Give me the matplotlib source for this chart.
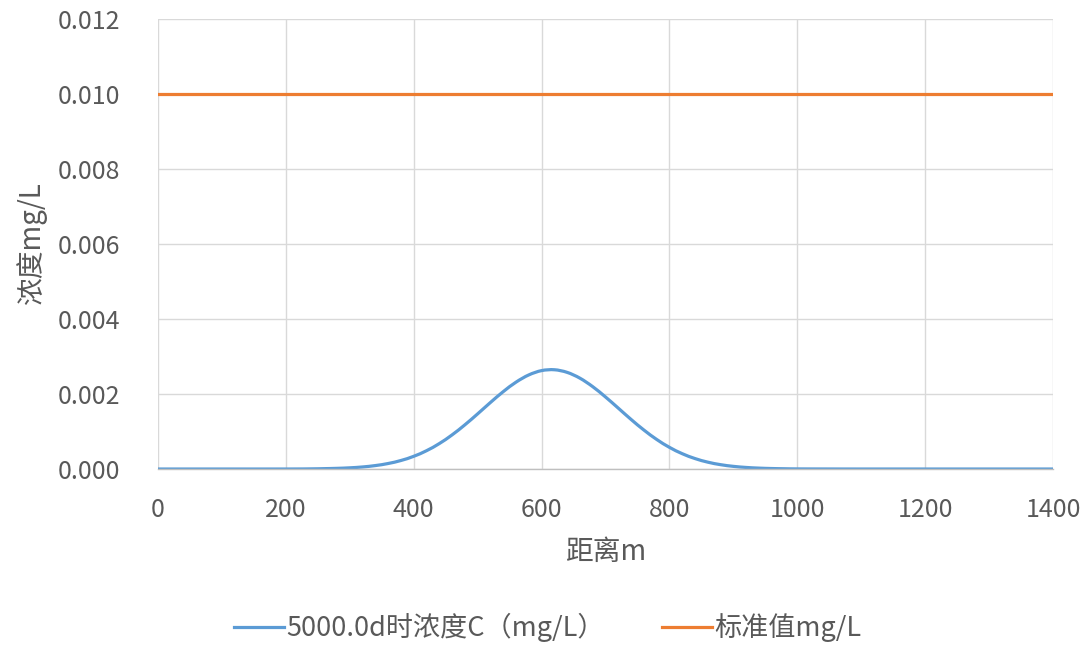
import matplotlib
matplotlib.use("Agg")
import matplotlib.pyplot as plt
import numpy as np
from matplotlib.path import Path
from matplotlib.patches import PathPatch
from matplotlib.lines import Line2D
from matplotlib.ticker import FormatStrFormatter

plt.rcParams['font.family'] = ['Noto Sans CJK SC', 'DejaVu Sans']

# distance (m) and concentration at t = 5000 d (mg/L)
distance = [0, 100, 200, 240, 260, 280, 300, 320, 340, 360, 380, 400, 420, 440, 460,
            480, 500, 520, 540, 560, 580, 600, 620, 640, 660, 680, 700, 720,
            740, 760, 780, 800, 820, 840, 860, 880, 900, 920, 940, 960, 980,
            1000, 1050, 1100, 1200, 1300, 1400]
concentration = [0.0, 0.0, 0.0, 0.000004, 0.00001, 0.000018, 0.000032, 0.000055,
                 0.000092, 0.000147, 0.000227, 0.000339, 0.000488, 0.000678,
                 0.00091, 0.001178, 0.001471, 0.001774, 0.002063, 0.002316,
                 0.002509, 0.002624, 0.002647, 0.002577, 0.002422, 0.002196,
                 0.001921, 0.001623, 0.001322, 0.00104, 0.000789, 0.000578,
                 0.000409, 0.000279, 0.000183, 0.000116, 0.000071, 0.000042,
                 0.000024, 0.000013, 0.000007, 0.000003, 0.000001, 0.0, 0.0,
                 0.0, 0.0]
standard_x = [0, 1400]
standard_value = [0.010, 0.010]

series_labels = ['5000.0d时浓度C（mg/L）', '标准值mg/L']
x_label = '距离m'
y_label = '浓度mg/L'

text_color = '#595959'
grid_color = '#d9d9d9'
blue = '#5B9BD5'
orange = '#ED7D31'


def smooth_path(xs, ys):
    """Catmull-Rom style Bezier path through the data points (smoothed line)."""
    p = np.column_stack([xs, ys]).astype(float)
    verts = [p[0]]
    codes = [Path.MOVETO]
    n = len(p)
    for i in range(n - 1):
        p0 = p[i - 1] if i > 0 else p[i]
        p1, p2 = p[i], p[i + 1]
        p3 = p[i + 2] if i + 2 < n else p[i + 1]
        c1 = p1 + (p2 - p0) / 6.0
        c2 = p2 - (p3 - p1) / 6.0
        verts += [c1, c2, p2]
        codes += [Path.CURVE4] * 3
    return Path(verts, codes)


fig = plt.figure(figsize=(10.91, 6.48), dpi=100)
ax = fig.add_axes([0.1448, 0.2762, 0.8204, 0.6945])

curve = PathPatch(smooth_path(distance, concentration), facecolor='none',
                  edgecolor=blue, lw=2.3, capstyle='round', joinstyle='round')
ax.add_patch(curve)
ax.plot(standard_x, standard_value, color=orange, lw=2.3)

ax.set_xlim(0, 1400)
ax.set_ylim(0, 0.012)
ax.set_xticks(range(0, 1401, 200))
ax.set_yticks([0, 0.002, 0.004, 0.006, 0.008, 0.010, 0.012])
ax.yaxis.set_major_formatter(FormatStrFormatter('%.3f'))

ax.grid(True, color=grid_color, lw=1.0)
ax.set_axisbelow(True)
for s in ['top', 'right', 'left']:
    ax.spines[s].set_visible(False)
ax.spines['bottom'].set_color('#bfbfbf')
ax.spines['bottom'].set_linewidth(1.0)

ax.tick_params(axis='both', length=0, labelsize=18, labelcolor=text_color)
ax.tick_params(axis='y', pad=27)
ax.tick_params(axis='x', pad=20)

ax.set_xlabel(x_label, fontsize=20, color=text_color, labelpad=10)
ax.set_ylabel(y_label, fontsize=20, color=text_color, labelpad=8)

handles = [Line2D([], [], color=blue, lw=2.3), Line2D([], [], color=orange, lw=2.3)]
fig.legend(handles, series_labels, loc='center', bbox_to_anchor=(0.502, 0.031),
           ncol=2, frameon=False, fontsize=19.5, labelcolor=text_color,
           handlelength=1.85, handletextpad=0.1, columnspacing=2.1)

fig.savefig('out.png', dpi=100)
